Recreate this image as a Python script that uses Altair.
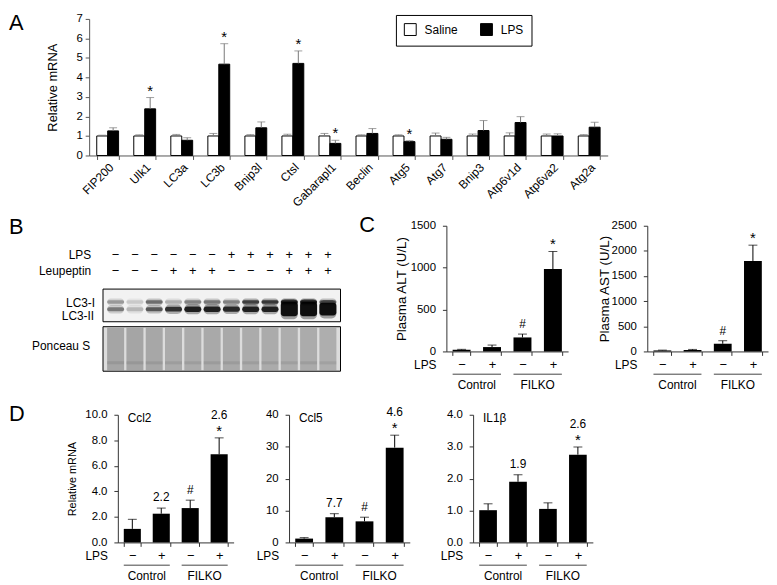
import altair as alt
import pandas as pd

FONT = "Liberation Sans"
AXC = "#333333"

# ---------------- Panel A data ----------------
genes = ["FIP200", "Ulk1", "LC3a", "LC3b", "Bnip3l", "Ctsl", "Gabarapl1", "Beclin",
         "Atg5", "Atg7", "Bnip3", "Atp6v1d", "Atp6va2", "Atg2a"]
saline_mean = [1.0] * 14
saline_err = [0.04, 0.06, 0.08, 0.13, 0.07, 0.09, 0.13, 0.06, 0.06, 0.15, 0.1, 0.16, 0.1, 0.07]
lps_mean = [1.26, 2.39, 0.78, 4.68, 1.42, 4.72, 0.62, 1.13, 0.71, 0.83, 1.28, 1.69, 1.0, 1.45]
lps_err = [0.16, 0.58, 0.13, 1.05, 0.30, 0.64, 0.16, 0.25, 0.05, 0.10, 0.51, 0.30, 0.11, 0.25]
lps_sig = ["", "*", "", "*", "", "*", "*", "", "*", "", "", "", "", ""]
series = ["Saline", "LPS"]

# ---------------- Panel B data (blot densities) ----------------
lanes = list(range(1, 13))
lps_signs = ["\u2212"] * 6 + ["+"] * 6
leu_signs = ["\u2212"] * 3 + ["+"] * 3 + ["\u2212"] * 3 + ["+"] * 3
lc3i_density = [0.35, 0.15, 0.55, 0.25, 0.45, 0.5, 0.45, 0.8, 0.85, 0.95, 0.95, 0.6]
lc3ii_density = [0.45, 0.2, 0.6, 0.8, 0.9, 0.9, 0.85, 0.9, 0.9, 1.0, 1.0, 1.0]
lc3ii_spread = [1.0, 1.0, 1.0, 1.2, 1.4, 1.4, 1.3, 1.4, 1.4, 3.6, 3.6, 3.2]
ponceau_density = [0.8, 0.8, 0.75, 0.7, 0.7, 0.72, 0.72, 0.7, 0.7, 0.68, 0.7, 0.65]

# ---------------- Panels C / D data ----------------
cats = ["Control \u2212", "Control +", "FILKO \u2212", "FILKO +"]
groups = ["Control", "FILKO"]

alt_mean = [20, 52, 167, 983]
alt_err = [5, 24, 40, 210]
alt_sym = ["", "", "#", "*"]

ast_mean = [20, 27, 153, 1800]
ast_err = [6, 13, 60, 314]
ast_sym = ["", "", "#", "*"]

ccl2_mean = [1.06, 2.25, 2.69, 6.9]
ccl2_err = [0.75, 0.44, 0.62, 1.29]
ccl2_sym = ["", "", "#", "*"]
ccl2_num = ["", "2.2", "", "2.6"]

ccl5_mean = [1.2, 7.9, 6.6, 29.7]
ccl5_err = [0.3, 1.1, 1.3, 3.9]
ccl5_sym = ["", "", "#", "*"]
ccl5_num = ["", "7.7", "", "4.6"]

il1b_mean = [1.01, 1.90, 1.05, 2.75]
il1b_err = [0.2, 0.22, 0.19, 0.24]
il1b_sym = ["", "", "", "*"]
il1b_num = ["", "1.9", "", "2.6"]

# ---------------- layout constants ----------------
PI = 0.41
LETTER = 22


def letter(ch, x, y):
    return alt.Chart(pd.DataFrame({"t": [ch]})).mark_text(
        align="left", baseline="alphabetic", fontSize=LETTER, color="black"
    ).encode(text="t:N", x=alt.value(x), y=alt.value(y))


def spacer(w=1):
    return alt.Chart(pd.DataFrame({"v": [0]})).mark_point(opacity=0, size=1).encode(
        x=alt.value(0), y=alt.value(0)
    ).properties(width=w, height=1)


# ---------------- Panel A ----------------
A_W, A_H = 524, 138
dfA = pd.DataFrame({
    "gene": genes * 2,
    "series": ["Saline"] * 14 + ["LPS"] * 14,
    "mean": saline_mean + lps_mean,
    "err": saline_err + lps_err,
    "sig": [""] * 14 + lps_sig,
})
dfA["top"] = dfA["mean"] + dfA["err"]

xA = alt.X("gene:N", sort=genes,
           scale=alt.Scale(paddingInner=PI, paddingOuter=PI / 2, range=[0, A_W]),
           axis=alt.Axis(title=None, labelAngle=-45, labelFontSize=12, tickBand="extent",
                         tickSize=4, labelPadding=2, domainColor="#555", tickColor="#555",
                         labelOverlap=False))
offA = alt.XOffset("series:N", sort=series, scale=alt.Scale(paddingInner=0, paddingOuter=0))
yscA = alt.Scale(domain=[0, 7], nice=False)

barsA = alt.Chart(dfA).mark_bar(stroke="black", strokeWidth=1).encode(
    x=xA, xOffset=offA,
    y=alt.Y("mean:Q", scale=yscA,
            axis=alt.Axis(title="Relative mRNA", values=list(range(8)), tickCount=8, format="d",
                          titleFontSize=13, titlePadding=17, domainColor="#555", tickColor="#555",
                          tickSize=4, labelPadding=3, labelOverlap=False)),
    fill=alt.Fill("series:N", scale=alt.Scale(domain=series, range=["white", "black"]),
                  legend=alt.Legend(title=None, orient="none", legendX=310, legendY=-4,
                                    direction="horizontal", strokeColor="black", padding=8,
                                    symbolType="square", symbolSize=144,
                                    symbolStrokeColor="black", symbolStrokeWidth=1,
                                    labelFontSize=12, labelOffset=8, columnPadding=20)),
)
errA = alt.Chart(dfA).mark_rule(color="#777", strokeWidth=1).encode(
    x=xA, xOffset=offA, y=alt.Y("mean:Q", scale=yscA), y2="top:Q")
capA = alt.Chart(dfA).mark_tick(color="#777", thickness=1, size=8).encode(
    x=xA, xOffset=offA, y=alt.Y("top:Q", scale=yscA))
starA = alt.Chart(dfA).transform_filter("datum.sig != ''").mark_text(
    fontSize=15, baseline="alphabetic", dy=-2).encode(
    x=xA, xOffset=offA, y=alt.Y("top:Q", scale=yscA), text="sig:N")
panelA = alt.layer(barsA, errA, capA, starA, letter("A", -81, 11)).properties(width=29, height=A_H)

# ---------------- Panel B ----------------
B_X0, B_W, B_H = 14, 240, 174
trk = alt.Scale(domain=[0, B_H], reverse=True, nice=False)
xB = alt.X("lane:O", scale=alt.Scale(paddingInner=0.12, paddingOuter=0.06,
                                     range=[B_X0 + 3, B_X0 + B_W - 3]), axis=None)
dfB = pd.DataFrame({"lane": lanes, "lps": lps_signs, "leu": leu_signs,
                    "i": lc3i_density, "ii": lc3ii_density, "sp": lc3ii_spread,
                    "pon": ponceau_density})
frames = pd.DataFrame({"y0": [91, 129], "y1": [124, 174], "f": ["#f2f2f2", "#dcdcdc"]})
boxB = alt.Chart(frames).mark_rect(stroke="black", strokeWidth=1).encode(
    x=alt.value(B_X0), x2=alt.value(B_X0 + B_W),
    y=alt.Y("y0:Q", scale=trk, axis=None), y2="y1:Q",
    fill=alt.Fill("f:N", scale=None))
ponB = alt.Chart(dfB).transform_calculate(o="datum.pon * 0.85").mark_rect(color="#8a8a8a").encode(
    x=xB, y=alt.Y(datum=130, scale=trk), y2=alt.Y2(datum=173.5),
    opacity=alt.Opacity("o:Q", scale=None))
ponStreak = alt.Chart(dfB).transform_calculate(o="datum.pon * 0.25").mark_rect(color="#606060").encode(
    x=xB, y=alt.Y(datum=164, scale=trk), y2=alt.Y2(datum=167),
    opacity=alt.Opacity("o:Q", scale=None))
lc3iHalo = alt.Chart(dfB).transform_calculate(o="datum.i * 0.35").mark_rect(
    color="black", cornerRadius=4).encode(
    x=xB, y=alt.Y(datum=100.5, scale=trk), y2=alt.Y2(datum=107.5),
    opacity=alt.Opacity("o:Q", scale=None))
lc3iB = alt.Chart(dfB).transform_calculate(o="datum.i * 0.8").mark_rect(
    color="black", cornerRadius=2).encode(
    x=xB, y=alt.Y(datum=102.3, scale=trk), y2=alt.Y2(datum=105.7),
    opacity=alt.Opacity("o:Q", scale=None))
lc3iiHalo = alt.Chart(dfB).transform_calculate(
    y0="111.3 - 2.3*datum.sp - 2", y1="111.3 + 2.3*datum.sp + 2",
    o="datum.ii * 0.35").mark_rect(color="black", cornerRadius=5).encode(
    x=xB, y=alt.Y("y0:Q", scale=trk), y2="y1:Q",
    opacity=alt.Opacity("o:Q", scale=None))
lc3iiB = alt.Chart(dfB).transform_calculate(
    y0="111.3 - 2.0*datum.sp", y1="111.3 + 2.0*datum.sp", o="datum.ii * 0.9").mark_rect(
    color="black", cornerRadius=3).encode(
    x=xB, y=alt.Y("y0:Q", scale=trk), y2="y1:Q",
    opacity=alt.Opacity("o:Q", scale=None))
sgn1 = alt.Chart(dfB).mark_text(fontSize=13, baseline="middle", color="black").encode(
    x=xB, y=alt.Y(datum=57, scale=trk), text="lps:N")
sgn2 = alt.Chart(dfB).mark_text(fontSize=13, baseline="middle", color="black").encode(
    x=xB, y=alt.Y(datum=72.3, scale=trk), text="leu:N")
rowlab = pd.DataFrame({"t": ["LPS", "Leupeptin", "LC3-I", "LC3-II", "Ponceau S"],
                       "y": [57, 72.3, 104.7, 118, 149],
                       "dx": [0, 0, 4, 3, -1]})
labB = alt.Chart(rowlab).transform_calculate(xx="%d + datum.dx" % (B_X0 - 12)).mark_text(
    fontSize=12, align="right", baseline="middle").encode(
    x=alt.X("xx:Q", scale=None), y=alt.Y("y:Q", scale=trk), text="t:N")
panelB = alt.layer(boxB, ponB, ponStreak, lc3iHalo, lc3iB, lc3iiHalo, lc3iiB, sgn1, sgn2, labB,
                   letter("B", -81, 35)).properties(width=29, height=B_H)


# ---------------- bar panels (C, D) ----------------
def bar_panel(means, errs, syms, nums, ymax, yvals, yfmt, ytitle, tsize, tpad,
              width, decl_w, height, axis_h, name=None, let=None):
    df = pd.DataFrame({"cat": cats, "mean": means, "err": errs, "sym": syms, "num": nums})
    df["top"] = df["mean"] + df["err"]
    xsc = alt.Scale(domain=cats, paddingInner=PI, paddingOuter=PI / 2, range=[0, width])
    x = alt.X("cat:N", scale=xsc,
              axis=alt.Axis(title=None, labelExpr="split(datum.label, ' ')[1]", labelAngle=0,
                            tickBand="extent", tickSize=4, labelFontSize=13, labelPadding=3,
                            labelOverlap=False))
    ysc = alt.Scale(domain=[0, ymax], nice=False, range=[height, height - axis_h])
    if ytitle:
        yax = alt.Axis(values=yvals, tickCount=len(yvals), format=yfmt, tickSize=4,
                       labelPadding=7, title=ytitle,
                       titleFontSize=tsize, titlePadding=tpad, labelOverlap=False)
    else:
        yax = alt.Axis(values=yvals, tickCount=len(yvals), format=yfmt, tickSize=4,
                       labelPadding=7, title=None, labelOverlap=False)
    base = alt.Chart(df)
    layers = [
        base.mark_bar(color="black").encode(x=x, y=alt.Y("mean:Q", scale=ysc, axis=yax)),
        base.mark_rule(color="black", strokeWidth=1).encode(
            x=x, y=alt.Y("mean:Q", scale=ysc), y2="top:Q"),
        base.mark_tick(color="black", thickness=1, size=9).encode(
            x=x, y=alt.Y("top:Q", scale=ysc)),
        base.transform_filter("datum.sym == '#'").mark_text(
            fontSize=12, baseline="alphabetic", dy=-6).encode(
            x=x, y=alt.Y("top:Q", scale=ysc), text="sym:N"),
        base.transform_filter("datum.sym == '*'").mark_text(
            fontSize=15, baseline="alphabetic", dy=-2).encode(
            x=x, y=alt.Y("top:Q", scale=ysc), text="sym:N"),
        base.transform_filter("datum.num != '' && datum.sym != ''").mark_text(
            fontSize=12, baseline="alphabetic", dy=-19).encode(
            x=x, y=alt.Y("top:Q", scale=ysc), text="num:N"),
        base.transform_filter("datum.num != '' && datum.sym == ''").mark_text(
            fontSize=12, baseline="alphabetic", dy=-7).encode(
            x=x, y=alt.Y("top:Q", scale=ysc), text="num:N"),
    ]
    gdf = pd.DataFrame({"group": groups, "first": [cats[0], cats[2]], "last": [cats[1], cats[3]]})
    gap_half = (width / 4.0) * PI / 2.0
    layers.append(alt.Chart(gdf).mark_rule(color="#444", strokeWidth=1).encode(
        x=alt.X("first:N", scale=xsc, bandPosition=0, title=None),
        x2=alt.X2("last:N", bandPosition=1),
        y=alt.value(height + 23)))
    layers.append(alt.Chart(gdf).mark_text(fontSize=12, baseline="middle", dx=gap_half).encode(
        x=alt.X("first:N", scale=xsc, bandPosition=1, title=None),
        y=alt.value(height + 34), text="group:N"))
    layers.append(alt.Chart(pd.DataFrame({"t": ["LPS"]})).mark_text(
        fontSize=12, align="right", baseline="middle").encode(
        text="t:N", x=alt.value(-10), y=alt.value(height + 14)))
    if name:
        layers.append(alt.Chart(pd.DataFrame({"t": [name]})).mark_text(
            fontSize=12, align="left", baseline="middle").encode(
            text="t:N", x=alt.value(10), y=alt.value(height - axis_h + 3)))
    if let:
        layers.append(letter(let[0], let[1], let[2]))
    return alt.layer(*layers).properties(width=decl_w, height=height)


# column starts (page x): 89 | 118 | 291 | 450 | 477 | 653
C_H = 154
C_AX = 127
panelALT = bar_panel(alt_mean, alt_err, alt_sym, [""] * 4, 1500, [0, 500, 1000, 1500], "d",
                     "Plasma ALT (U/L)", 13.5, 2, 123, 27, C_H, C_AX, let=("C", -88, 33))
panelAST = bar_panel(ast_mean, ast_err, ast_sym, [""] * 4, 2500, [0, 500, 1000, 1500, 2000, 2500], "d",
                     "Plasma AST (U/L)", 13.5, 0, 122, 122, C_H, C_AX)

D_H = 129
panelCcl2 = bar_panel(ccl2_mean, ccl2_err, ccl2_sym, ccl2_num, 10, [0, 2, 4, 6, 8, 10], ".1f",
                      "Relative mRNA", 11, 7, 117, 173, D_H, D_H, name="Ccl2", let=("D", -110, 6))
panelCcl5 = bar_panel(ccl5_mean, ccl5_err, ccl5_sym, ccl5_num, 40, [0, 10, 20, 30, 40], "d",
                      None, 11, 10, 122, 159, D_H, D_H, name="Ccl5")
panelIL1b = bar_panel(il1b_mean, il1b_err, il1b_sym, il1b_num, 4, [0, 1, 2, 3, 4], ".1f",
                      None, 11, 10, 121, 176, D_H, D_H, name="IL1\u03b2")

cells = [
    panelA, spacer(), spacer(), spacer(), spacer(), spacer(),
    panelB, spacer(), spacer(), panelALT, spacer(), panelAST,
    spacer(), panelCcl2, panelCcl5, spacer(), panelIL1b, spacer(),
]

chart = alt.concat(
    *cells, columns=6, spacing={"row": 44, "column": 0},
    align={"row": "each", "column": "each"}, bounds="flush",
).resolve_scale(
    x="independent", y="independent"
).properties(padding=0).configure(
    font=FONT
).configure_view(
    stroke="transparent"
).configure_axis(
    grid=False, domainColor=AXC, tickColor=AXC, labelColor="black", titleColor="black",
    labelFont=FONT, titleFont=FONT, titleFontWeight="normal", labelFontSize=11.5,
    labelOverlap=False, labelFlush=False,
).configure_text(font=FONT)

chart.save("out.html", embed_options={"renderer": "svg", "actions": False})
